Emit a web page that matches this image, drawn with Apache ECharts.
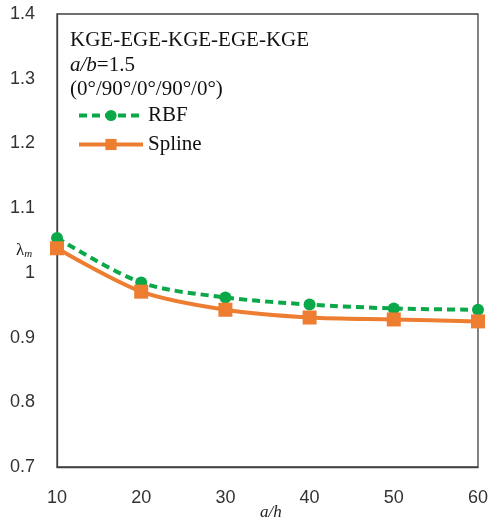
<!DOCTYPE html>
<html>
<head>
<meta charset="utf-8">
<script src="https://cdn.jsdelivr.net/npm/echarts@6/dist/echarts.min.js"></script>
<style>
  html, body { margin: 0; padding: 0; background: #fff; }
  #chart { width: 491px; height: 517px; }
</style>
</head>
<body>
<div id="chart"></div>
<script>
// a/h values
const aOverH = [10, 20, 30, 40, 50, 60]
const rbfValues = [1.054, 0.985, 0.962, 0.951, 0.945, 0.943]
const splineValues = [1.038, 0.971, 0.943, 0.931, 0.928, 0.925]
const titleLines = ['KGE-EGE-KGE-EGE-KGE', 'a/b=1.5', '(0°/90°/0°/90°/0°)']

const chart = echarts.init(document.getElementById('chart'))

const toPairs = vals => aOverH.map((x, i) => [x, vals[i]])
const serif = '"Liberation Serif", "Times New Roman", serif'
const sans = '"Liberation Sans", Arial, sans-serif'

let option = {
    animation: false,
    backgroundColor: '#fff',
    grid: {
        left: 57,
        right: 11,
        top: 14,
        bottom: 50,
        show: true,
        borderColor: '#404040',
        borderWidth: 1.3
    },
    xAxis: {
        type: 'value',
        min: 10,
        max: 60,
        interval: 10,
        axisLine: { show: true, lineStyle: { color: '#404040', width: 1.3 } },
        axisTick: { show: false },
        splitLine: { show: false },
        axisLabel: { margin: 22, color: '#333', fontSize: 18, fontFamily: sans }
    },
    yAxis: {
        type: 'value',
        min: 0.7,
        max: 1.4,
        interval: 0.1,
        axisLine: { show: true, lineStyle: { color: '#404040', width: 1.3 } },
        axisTick: { show: false },
        splitLine: { show: false },
        axisLabel: {
            margin: 22, color: '#333', fontSize: 18, fontFamily: sans,
            formatter: v => (Math.round(v * 10) / 10).toString()
        }
    },
    legend: {
        left: 72,
        top: 100,
        orient: 'vertical',
        itemGap: 8,
        itemWidth: 64,
        itemHeight: 14,
        lineStyle: { width: 4 },
        textStyle: { fontFamily: serif, fontSize: 21, color: '#111' },
        data: ['RBF', 'Spline']
    },
    graphic: [
        {
            type: 'text', left: 70, top: 30,
            style: { text: titleLines[0], font: '21px ' + serif, fill: '#111' }
        },
        {
            type: 'text', left: 70, top: 55,
            style: {
                text: '{i|a/b}{n|=1.5}',
                rich: {
                    i: { fontStyle: 'italic', fontSize: 21, fontFamily: serif, fill: '#111' },
                    n: { fontSize: 21, fontFamily: serif, fill: '#111' }
                }
            }
        },
        {
            type: 'text', left: 70, top: 79,
            style: { text: titleLines[2], font: '21px ' + serif, fill: '#111' }
        },
        {
            type: 'text', left: 16, top: 242,
            style: {
                text: '{l|λ}{s|m}',
                rich: {
                    l: { fontSize: 17, fontFamily: serif, fill: '#222' },
                    s: { fontSize: 11, fontStyle: 'italic', fontFamily: serif, fill: '#222', padding: [7, 0, 0, 0] }
                }
            }
        },
        {
            type: 'text', left: 260, top: 504,
            style: { text: 'a/h', font: 'italic 17px ' + serif, fill: '#222' }
        }
    ],
    series: [
        {
            name: 'RBF',
            type: 'line',
            data: toPairs(rbfValues),
            smooth: 0.3,
            symbol: 'circle',
            symbolSize: 12,
            itemStyle: { color: '#0BA84A' },
            lineStyle: { color: '#0BA84A', width: 4, type: [8, 5] },
            z: 3
        },
        {
            name: 'Spline',
            type: 'line',
            data: toPairs(splineValues),
            smooth: 0.3,
            symbol: 'rect',
            symbolSize: 14,
            itemStyle: { color: '#ED7D31' },
            lineStyle: { color: '#ED7D31', width: 4 },
            z: 4
        }
    ]
}
chart.setOption(option)
</script>
</body>
</html>
